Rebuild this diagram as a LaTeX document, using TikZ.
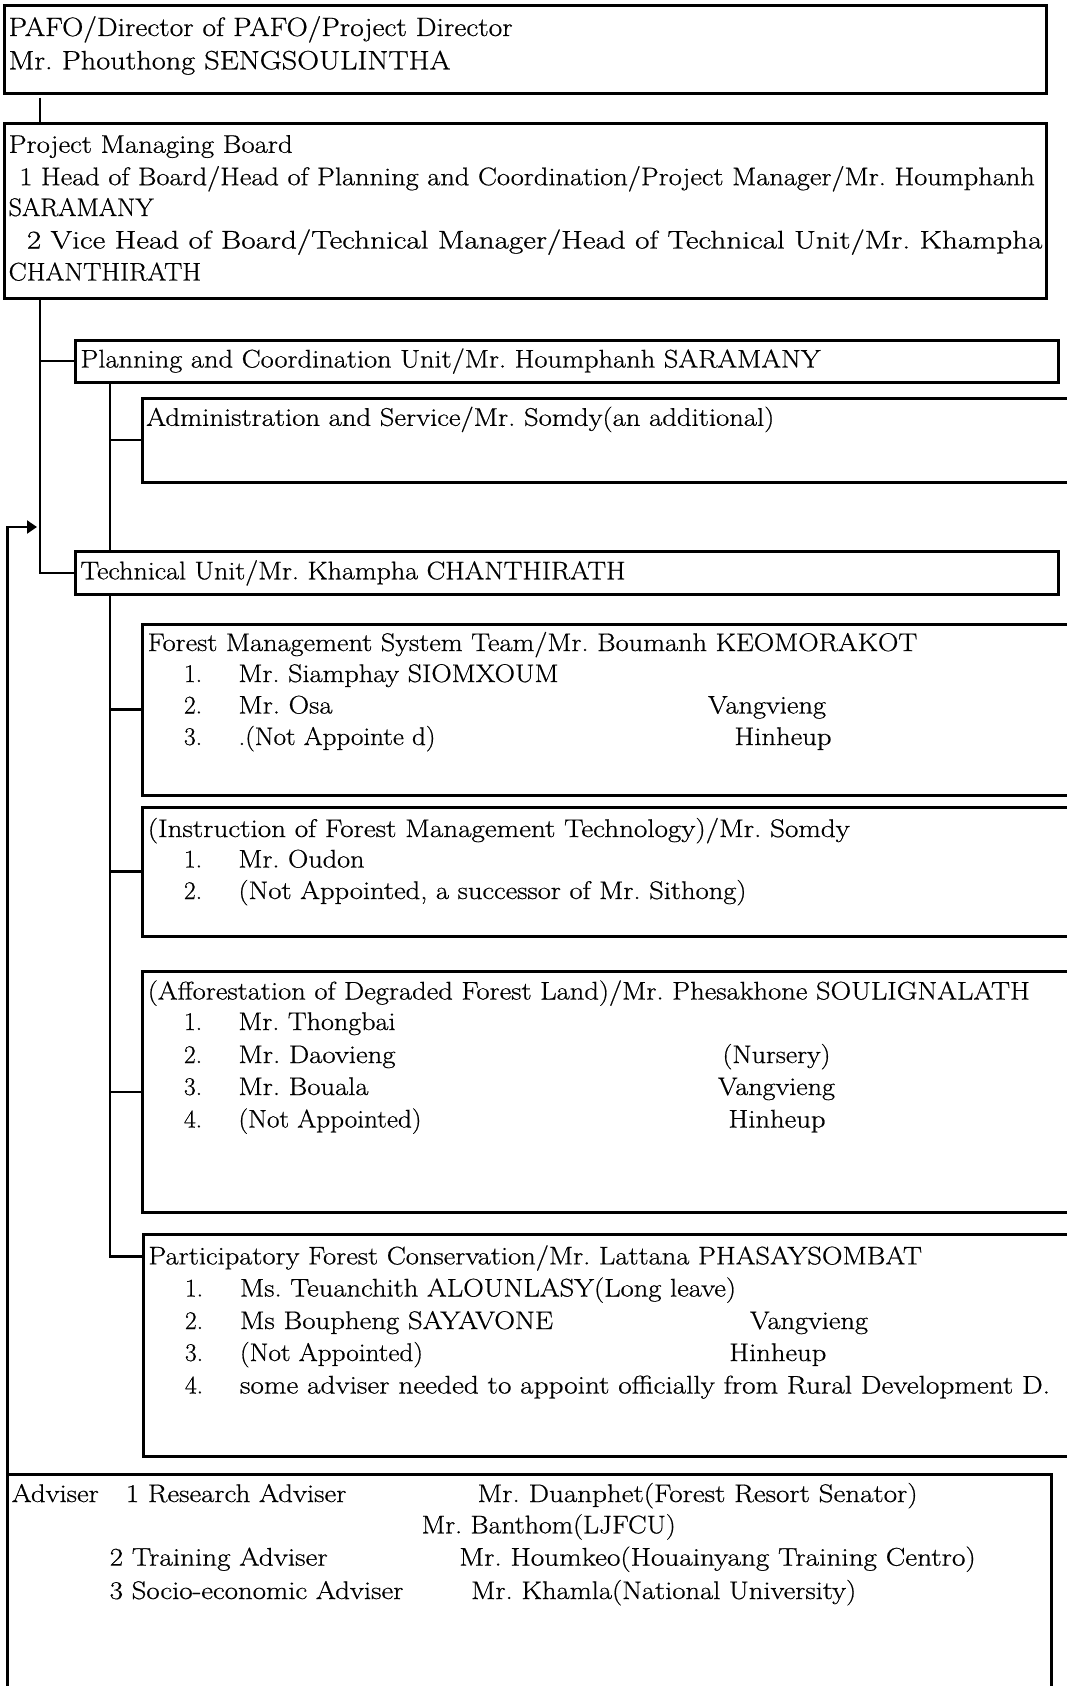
\documentclass[tikz,border=0pt]{standalone}
\usepackage{fontspec}
\usepackage{graphicx}
\setmainfont{Latin Modern Roman}[FakeBold=0.6]
\usetikzlibrary{arrows.meta}
\tikzset{
  box/.style={draw, line width=3pt, inner sep=0pt, outer sep=0pt, anchor=north west},
  conn/.style={line width=2.2pt},
  txt/.style={anchor=base west, inner sep=0pt, outer sep=0pt, font=\fontsize{25.5}{30}\selectfont},
  bigtxt/.style={txt, font=\fontsize{26.5}{32}\selectfont},
}
\newcommand\fit[2]{\resizebox{#1}{\height}{#2}}
\begin{document}
\frenchspacing
\begin{tikzpicture}[x=1pt,y=-1pt]
\useasboundingbox (0,0) rectangle (1066,1686);
\fill[white] (0,0) rectangle (1066,1686);
% boxes
\node[box, minimum width=1042.4pt, minimum height=88.2pt] (pafo) at (4.3,5.4) {};
\node[box, minimum width=1042.4pt, minimum height=174.3pt] (board) at (4.3,123.7) {};
\node[box, minimum width=983.2pt, minimum height=42pt] (plan) at (75.3,340) {};
\node[box, minimum width=950pt, minimum height=84pt] (admin) at (142.5,398) {};
\node[box, minimum width=983.2pt, minimum height=43pt] (tech) at (75.3,551.5) {};
\node[box, minimum width=950pt, minimum height=171pt] (fms) at (142.5,624) {};
\node[box, minimum width=950pt, minimum height=129pt] (instr) at (142.5,807) {};
\node[box, minimum width=950pt, minimum height=241pt] (aff) at (142.5,971.5) {};
\node[box, minimum width=950pt, minimum height=222pt] (part) at (143,1234.5) {};
\node[box, minimum width=1043.5pt, minimum height=260pt] (adv) at (7.5,1474.5) {};
% connectors
\coordinate (tx) at (40,0);
\coordinate (sx) at (110,0);
\coordinate (atip) at (37,527);
\draw[conn] ([yshift=-4pt]pafo.south -| tx) -- (board.north -| tx);
\draw[conn] (board.south -| tx) |- (tech.west);
\draw[conn] (tx |- plan.west) -- (plan.west);
\draw[conn] (plan.south -| sx) -- (tech.north -| sx);
\draw[conn] (sx |- admin.west) -- (admin.west);
\draw[conn] (tech.south -| sx) |- ([yshift=-22pt]part.north west);
\draw[conn] (sx |- fms.west) -- (fms.west);
\draw[conn] (sx |- instr.west) -- (instr.west);
\draw[conn] (sx |- aff.west) -- (aff.west);
\draw[conn, -{Triangle[length=10pt,width=13pt]}] (adv.north west) |- (atip);
% texts: PAFO
\node[bigtxt] (a1) at (8.6,36) {\fit{504pt}{PAFO/Director of PAFO/Project Director}};
\node[bigtxt] (a2) at (8.6,69.3) {\fit{442pt}{Mr. Phouthong SENGSOULINTHA}};
% board
\node[txt] (b1) at (8.6,152.8) {\fit{284pt}{Project Managing Board}};
\node[txt] (b2) at (19.4,185.2) {\fit{1015.4pt}{1 Head of Board/Head of Planning and Coordination/Project Manager/Mr. Houmphanh}};
\node[txt] (b3) at (8.6,216) {\fit{145pt}{SARAMANY}};
\node[txt] (b4) at (26.9,248.5) {\fit{1015.5pt}{2 Vice Head of Board/Technical Manager/Head of Technical Unit/Mr. Khampha}};
\node[txt] (b5) at (8.6,280.5) {\fit{192.5pt}{CHANTHIRATH}};
% units
\node[txt] (p1) at (80.5,367.5) {\fit{740pt}{Planning and Coordination Unit/Mr. Houmphanh SARAMANY}};
\node[txt] (ad1) at (146.3,425.8) {\fit{628pt}{Administration and Service/Mr. Somdy(an additional)}};
\node[txt] (t1) at (80.5,579.3) {\fit{545pt}{Technical Unit/Mr. Khampha CHANTHIRATH}};
% FMS
\node[txt] (f0) at (147.8,651) {\fit{769.5pt}{Forest Management System Team/Mr. Boumanh KEOMORAKOT}};
\node[txt] (f1n) at (184,682) {1.};
\node[txt] (f1) at (238.5,682) {\fit{320pt}{Mr. Siamphay SIOMXOUM}};
\node[txt] (f2n) at (184,713.5) {2.};
\node[txt] (f2) at (238.5,713.5) {\fit{94pt}{Mr. Osa}};
\node[txt] (f2r) at (708,713.5) {\fit{118pt}{Vangvieng}};
\node[txt] (f3n) at (184,745) {3.};
\node[txt] (f3) at (238.5,745) {\fit{197pt}{.(Not Appointe d)}};
\node[txt] (f3r) at (734.5,745) {\fit{97pt}{Hinheup}};
% Instruction
\node[txt] (i0) at (147.8,837) {\fit{702pt}{(Instruction of Forest Management Technology)/Mr. Somdy}};
\node[txt] (i1n) at (184,867.5) {1.};
\node[txt] (i1) at (238.5,867.5) {\fit{126pt}{Mr. Oudon}};
\node[txt] (i2n) at (184,899) {2.};
\node[txt] (i2) at (238.5,899) {\fit{508pt}{(Not Appointed, a successor of Mr. Sithong)}};
% Afforestation
\node[txt] (g0) at (147.8,999.5) {\fit{882pt}{(Afforestation of Degraded Forest Land)/Mr. Phesakhone SOULIGNALATH}};
\node[txt] (g1n) at (184,1030) {1.};
\node[txt] (g1) at (238.5,1030) {\fit{157pt}{Mr. Thongbai}};
\node[txt] (g2n) at (184,1063) {2.};
\node[txt] (g2) at (238.5,1063) {\fit{157pt}{Mr. Daovieng}};
\node[txt] (g2r) at (722.5,1063) {\fit{108pt}{(Nursery)}};
\node[txt] (g3n) at (184,1095) {3.};
\node[txt] (g3) at (238.5,1095) {\fit{130pt}{Mr. Bouala}};
\node[txt] (g3r) at (718,1095) {\fit{117pt}{Vangvieng}};
\node[txt] (g4n) at (184,1127.5) {4.};
\node[txt] (g4) at (238.5,1127.5) {\fit{183pt}{(Not Appointed)}};
\node[txt] (g4r) at (728.5,1127.5) {\fit{97pt}{Hinheup}};
% Participatory
\node[txt] (q0) at (148.4,1264.4) {\fit{773.5pt}{Participatory Forest Conservation/Mr. Lattana PHASAYSOMBAT}};
\node[txt] (q1n) at (185,1296.5) {1.};
\node[txt] (q1) at (240,1296.5) {\fit{496pt}{Ms. Teuanchith ALOUNLASY(Long leave)}};
\node[txt] (q2n) at (185,1329) {2.};
\node[txt] (q2) at (240,1329) {\fit{313pt}{Ms Boupheng SAYAVONE}};
\node[txt] (q2r) at (750,1329) {\fit{118pt}{Vangvieng}};
\node[txt] (q3n) at (185,1361) {3.};
\node[txt] (q3) at (240,1361) {\fit{183pt}{(Not Appointed)}};
\node[txt] (q3r) at (729.3,1361) {\fit{97pt}{Hinheup}};
\node[txt] (q4n) at (185,1393.5) {4.};
\node[txt] (q4) at (240,1393.5) {\fit{810pt}{some adviser needed to appoint officially from Rural Development D.}};
% Adviser
\node[txt] (v0) at (11.8,1502) {\fit{87pt}{Adviser}};
\node[txt] (v1) at (125.9,1502) {\fit{220.5pt}{1 Research Adviser}};
\node[txt] (v1r) at (477.6,1502) {\fit{440pt}{Mr. Duanphet(Forest Resort Senator)}};
\node[txt] (v2r) at (421.7,1533.3) {\fit{254pt}{Mr. Banthom(LJFCU)}};
\node[txt] (v3) at (109.7,1565.6) {\fit{218pt}{2 Training Adviser}};
\node[txt] (v3r) at (459.3,1565.6) {\fit{516.4pt}{Mr. Houmkeo(Houainyang Training Centro)}};
\node[txt] (v4) at (109.7,1599) {\fit{293.7pt}{3 Socio-economic Adviser}};
\node[txt] (v4r) at (471.2,1599) {\fit{385pt}{Mr. Khamla(National University)}};
\end{tikzpicture}
\end{document}
